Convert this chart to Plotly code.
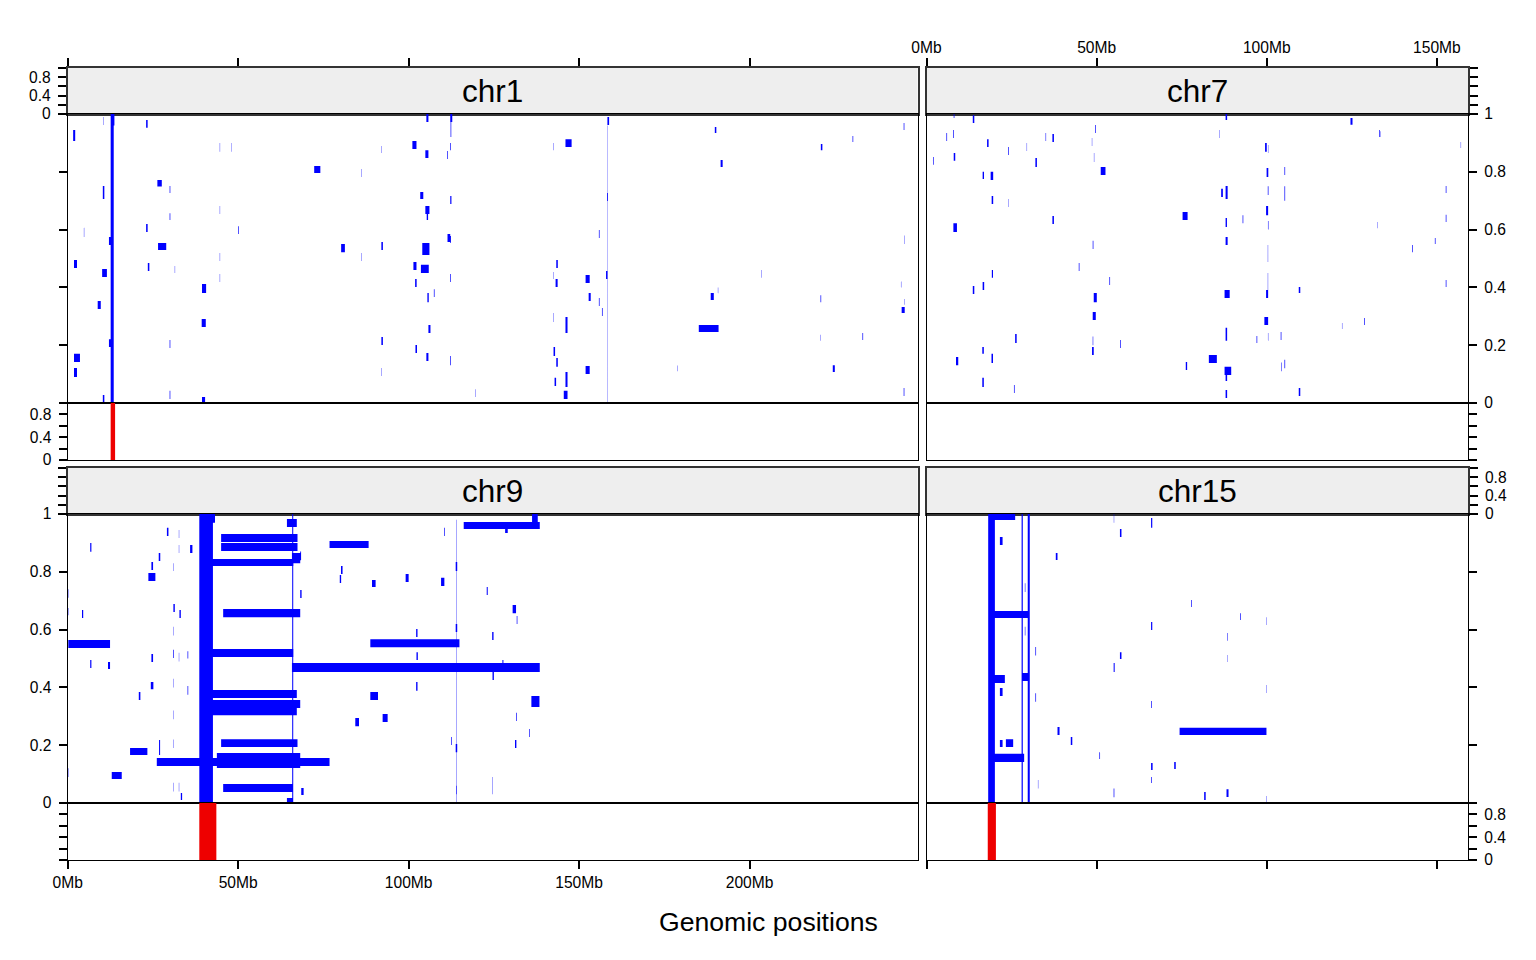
import plotly.graph_objects as go

# ---------------- data (Mb positions, sample fraction 0..1) ----------------
panel_chroms = ["chr1", "chr7", "chr9", "chr15"]
column_lengths_mb = [249.25, 159.14]          # x extent of left / right column
x_ticks_left = [0, 50, 100, 150, 200]
x_ticks_right = [0, 50, 100, 150]
y_ticks = [0, 0.2, 0.4, 0.6, 0.8, 1]
y_labels_main = ["0", "0.2", "0.4", "0.6", "0.8", "1"]
y_labels_small = ["0", "", "0.4", "", "0.8", ""]

# segments: (start_mb, end_mb, y_low, y_high)
chr1_segments = [
    (12.6, 13.5, 0.0, 1.0), (12.6, 13.7, 0.96, 1.0),
    (10.4, 10.5, 0.962, 0.990), (23.0, 23.45, 0.952, 0.979), (1.6, 2.2, 0.907, 0.945),
    (44.6, 44.7, 0.869, 0.900), (48.1, 48.2, 0.869, 0.900), (72.3, 74.1, 0.796, 0.820),
    (26.3, 27.6, 0.749, 0.772), (10.3, 10.75, 0.706, 0.751), (29.9, 30.1, 0.727, 0.751),
    (44.6, 44.7, 0.654, 0.682), (29.9, 30.1, 0.633, 0.657), (4.75, 4.85, 0.574, 0.606),
    (23.0, 23.45, 0.592, 0.619), (50.0, 50.2, 0.585, 0.612), (12.1, 13.0, 0.547, 0.574),
    (26.5, 28.9, 0.529, 0.554), (44.6, 44.7, 0.491, 0.519), (1.85, 2.73, 0.467, 0.495),
    (23.5, 23.95, 0.457, 0.484), (31.4, 31.5, 0.450, 0.474), (10.1, 11.5, 0.436, 0.464),
    (44.6, 44.7, 0.419, 0.446), (39.4, 40.6, 0.381, 0.412), (8.8, 9.7, 0.325, 0.353),
    (39.3, 40.5, 0.263, 0.291), (12.1, 13.0, 0.194, 0.221), (29.9, 30.1, 0.190, 0.218),
    (1.85, 3.6, 0.142, 0.170), (1.85, 2.73, 0.090, 0.121), (29.9, 30.1, 0.014, 0.042),
    (10.3, 10.75, 0.0, 0.028), (39.4, 40.3, 0.0, 0.021),
    (105.2, 105.8, 0.972, 1.0), (112.2, 112.8, 0.972, 1.0), (112.3, 112.5, 0.92, 0.972),
    (158.3, 158.8, 0.962, 0.990), (101.1, 102.3, 0.879, 0.907), (146.0, 147.8, 0.886, 0.913),
    (92.0, 92.1, 0.865, 0.889), (112.2, 112.4, 0.875, 0.900), (142.5, 142.6, 0.875, 0.900),
    (104.9, 105.8, 0.848, 0.875), (111.3, 111.5, 0.844, 0.872), (86.1, 86.2, 0.782, 0.810),
    (103.4, 104.3, 0.706, 0.730), (112.2, 112.55, 0.689, 0.716), (158.2, 158.45, 0.699, 0.727),
    (104.9, 106.1, 0.654, 0.682), (105.3, 105.7, 0.633, 0.654), (111.4, 112.2, 0.557, 0.585),
    (155.8, 156.0, 0.571, 0.599), (80.2, 81.3, 0.522, 0.550), (92.0, 92.45, 0.529, 0.557),
    (104.0, 106.1, 0.512, 0.554), (112.2, 112.4, 0.554, 0.578), (86.1, 86.2, 0.491, 0.519),
    (101.4, 102.3, 0.460, 0.488), (103.6, 105.9, 0.450, 0.478), (143.3, 143.75, 0.467, 0.495),
    (157.9, 158.35, 0.429, 0.457), (112.2, 112.4, 0.419, 0.446), (142.5, 142.6, 0.429, 0.453),
    (151.9, 153.1, 0.415, 0.443), (101.9, 102.35, 0.401, 0.429), (143.1, 143.7, 0.401, 0.429),
    (107.4, 107.6, 0.367, 0.394), (105.5, 105.9, 0.349, 0.381), (152.8, 153.4, 0.353, 0.381),
    (155.8, 156.0, 0.336, 0.363), (156.7, 156.9, 0.301, 0.329), (142.5, 142.6, 0.280, 0.311),
    (146.0, 146.6, 0.242, 0.298), (105.8, 106.4, 0.242, 0.270), (92.0, 92.45, 0.201, 0.228),
    (102.0, 102.45, 0.173, 0.201), (142.5, 142.95, 0.163, 0.194), (105.2, 105.8, 0.145, 0.173),
    (112.2, 112.4, 0.131, 0.163), (143.3, 143.75, 0.125, 0.156), (151.9, 153.1, 0.100, 0.128),
    (92.0, 92.1, 0.093, 0.121), (142.8, 143.25, 0.059, 0.087), (146.0, 146.6, 0.055, 0.107),
    (119.6, 119.7, 0.021, 0.048), (145.5, 146.6, 0.014, 0.042), (158.28, 158.36, 0.0, 0.96),
    (189.8, 190.25, 0.934, 0.955), (191.5, 192.1, 0.817, 0.841), (220.9, 221.35, 0.875, 0.896),
    (230.2, 230.4, 0.903, 0.924), (245.2, 245.4, 0.945, 0.969), (203.5, 203.6, 0.433, 0.460),
    (188.6, 189.5, 0.356, 0.381), (190.7, 190.8, 0.38, 0.40), (220.8, 221.0, 0.349, 0.373),
    (245.4, 245.5, 0.34, 0.36), (244.6, 245.5, 0.311, 0.332), (185.1, 190.9, 0.246, 0.270),
    (220.8, 220.9, 0.215, 0.236), (233.1, 233.3, 0.218, 0.242), (224.4, 225.0, 0.107, 0.131),
    (178.9, 179.0, 0.11, 0.13), (245.2, 245.4, 0.024, 0.052), (245.3, 245.4, 0.55, 0.58),
    (244.4, 244.5, 0.40, 0.42),
]

chr7_segments = [
    (8.0, 8.2, 0.986, 1.0), (13.6, 14.05, 0.969, 0.996), (87.9, 88.35, 0.979, 1.0),
    (49.55, 49.75, 0.934, 0.962), (5.85, 6.05, 0.907, 0.934), (7.8, 8.0, 0.917, 0.945),
    (35.0, 35.15, 0.907, 0.934), (37.0, 37.45, 0.903, 0.931), (17.8, 18.25, 0.886, 0.913),
    (29.45, 29.55, 0.872, 0.900), (24.0, 24.2, 0.858, 0.886), (48.6, 48.7, 0.889, 0.917),
    (86.1, 86.2, 0.917, 0.945), (99.5, 100.0, 0.869, 0.900), (100.35, 100.45, 0.865, 0.893),
    (1.9, 2.1, 0.824, 0.851), (8.0, 8.45, 0.838, 0.865), (32.0, 32.45, 0.817, 0.848),
    (49.2, 49.3, 0.834, 0.865), (51.2, 52.6, 0.789, 0.817), (16.5, 16.9, 0.775, 0.800),
    (18.85, 19.6, 0.772, 0.800), (99.95, 100.45, 0.782, 0.813), (105.2, 105.4, 0.789, 0.817),
    (19.15, 19.6, 0.689, 0.716), (24.0, 24.1, 0.678, 0.706), (86.6, 87.1, 0.713, 0.741),
    (87.9, 88.5, 0.706, 0.751), (100.3, 100.5, 0.72, 0.75), (105.2, 105.4, 0.70, 0.75),
    (75.26, 76.73, 0.633, 0.661), (7.9, 8.95, 0.592, 0.622), (37.0, 37.45, 0.619, 0.647),
    (87.9, 88.3, 0.609, 0.640), (92.9, 93.1, 0.622, 0.650), (99.8, 100.4, 0.650, 0.682),
    (100.35, 100.5, 0.60, 0.63), (48.85, 49.05, 0.533, 0.561), (87.9, 88.5, 0.547, 0.574),
    (100.3, 100.4, 0.488, 0.547), (44.75, 44.95, 0.457, 0.484), (19.2, 19.55, 0.433, 0.460),
    (53.75, 53.95, 0.408, 0.436), (13.6, 14.05, 0.377, 0.405), (16.5, 16.95, 0.391, 0.419),
    (100.3, 100.4, 0.38, 0.45), (49.15, 50.05, 0.349, 0.381), (87.6, 89.1, 0.363, 0.391),
    (99.8, 100.4, 0.363, 0.391), (48.85, 49.75, 0.287, 0.315), (99.3, 100.4, 0.270, 0.298),
    (26.05, 26.5, 0.208, 0.239), (48.85, 49.0, 0.20, 0.23), (56.9, 57.1, 0.190, 0.218),
    (87.9, 88.35, 0.215, 0.260), (97.0, 97.2, 0.208, 0.232), (100.35, 100.45, 0.215, 0.242),
    (104.1, 104.3, 0.218, 0.246), (16.4, 16.85, 0.170, 0.194), (8.66, 9.33, 0.131, 0.159),
    (19.1, 19.55, 0.138, 0.170), (48.65, 49.15, 0.166, 0.194), (82.98, 85.33, 0.138, 0.166),
    (76.2, 76.6, 0.114, 0.142), (87.6, 89.55, 0.097, 0.125), (87.9, 88.35, 0.076, 0.097),
    (104.2, 104.35, 0.11, 0.14), (105.2, 105.4, 0.12, 0.15), (16.4, 16.85, 0.055, 0.087),
    (25.7, 25.9, 0.035, 0.062), (87.9, 88.35, 0.017, 0.045),
    (124.6, 125.2, 0.963, 0.986), (133.0, 133.2, 0.920, 0.945), (152.6, 152.8, 0.727, 0.751),
    (152.6, 152.8, 0.626, 0.651), (132.4, 132.5, 0.605, 0.626), (149.4, 149.6, 0.550, 0.571),
    (142.7, 142.9, 0.522, 0.547), (109.4, 109.85, 0.381, 0.401), (152.6, 152.8, 0.401, 0.426),
    (128.6, 128.8, 0.270, 0.294), (122.1, 122.2, 0.256, 0.277), (109.4, 109.85, 0.024, 0.052),
    (157.0, 157.1, 0.882, 0.903), (133.3, 133.4, 0.920, 0.940),
]

chr9_segments = [
    (38.6, 42.6, 0.0, 1.0), (38.6, 43.2, 0.97, 1.0), (65.85, 66.15, 0.0, 1.0),
    (45.0, 67.4, 0.903, 0.931), (45.0, 67.4, 0.872, 0.900), (42.3, 66.2, 0.820, 0.844),
    (65.77, 68.2, 0.830, 0.865), (45.6, 68.2, 0.643, 0.671), (0.18, 12.42, 0.536, 0.564),
    (42.3, 66.2, 0.505, 0.533), (65.77, 138.46, 0.453, 0.484), (42.3, 67.2, 0.363, 0.391),
    (42.3, 68.2, 0.329, 0.356), (42.3, 67.2, 0.304, 0.329), (45.0, 67.4, 0.194, 0.221),
    (26.13, 76.8, 0.128, 0.156), (43.75, 68.2, 0.121, 0.173), (45.6, 65.9, 0.038, 0.066),
    (12.92, 15.85, 0.083, 0.107), (18.29, 23.37, 0.166, 0.190), (23.66, 25.72, 0.768, 0.796),
    (64.3, 67.2, 0.955, 0.983), (136.2, 137.87, 0.972, 1.0), (116.15, 138.46, 0.948, 0.972),
    (128.3, 129.07, 0.934, 0.952), (76.8, 88.26, 0.882, 0.907), (88.76, 114.9, 0.539, 0.567),
    (29.1, 29.55, 0.924, 0.952), (32.6, 32.7, 0.917, 0.945), (6.6, 6.95, 0.869, 0.900),
    (35.9, 36.58, 0.865, 0.893), (32.6, 32.7, 0.865, 0.893), (26.7, 27.15, 0.837, 0.865),
    (31.0, 31.1, 0.803, 0.830), (24.55, 25.04, 0.806, 0.834), (0.1, 0.2, 0.71, 0.74),
    (31.0, 31.42, 0.661, 0.689), (32.77, 33.18, 0.640, 0.668), (4.2, 4.55, 0.640, 0.668),
    (0.1, 0.2, 0.65, 0.675), (68.2, 68.6, 0.709, 0.737), (31.0, 31.1, 0.58, 0.61),
    (30.95, 31.15, 0.502, 0.530), (35.15, 35.35, 0.50, 0.525), (24.55, 25.04, 0.488, 0.516),
    (6.6, 6.95, 0.467, 0.495), (11.83, 12.42, 0.464, 0.488), (32.6, 32.7, 0.49, 0.52),
    (24.37, 25.13, 0.394, 0.419), (35.15, 35.35, 0.375, 0.405), (31.0, 31.1, 0.40, 0.43),
    (20.85, 21.32, 0.356, 0.384), (31.0, 31.1, 0.29, 0.32), (26.8, 27.1, 0.166, 0.218),
    (0.1, 0.2, 0.09, 0.12), (31.0, 31.1, 0.19, 0.22), (31.0, 31.1, 0.04, 0.07),
    (32.6, 32.7, 0.04, 0.07), (33.18, 33.56, 0.010, 0.035), (68.5, 69.2, 0.028, 0.052),
    (64.3, 66.06, 0.0, 0.017),
    (110.4, 110.6, 0.924, 0.952), (113.95, 114.05, 0.0, 0.98), (68.2, 68.45, 0.84, 0.87),
    (80.15, 80.62, 0.792, 0.820), (79.8, 80.2, 0.761, 0.789), (89.26, 90.31, 0.747, 0.772),
    (99.12, 100.0, 0.765, 0.792), (109.51, 110.48, 0.751, 0.779), (113.8, 114.25, 0.803, 0.834),
    (122.9, 123.2, 0.720, 0.747), (130.5, 131.5, 0.657, 0.685), (131.7, 131.9, 0.619, 0.647),
    (102.2, 102.6, 0.574, 0.602), (113.8, 114.25, 0.592, 0.619), (124.5, 124.9, 0.564, 0.592),
    (102.3, 102.7, 0.495, 0.522), (127.5, 127.8, 0.484, 0.495), (124.6, 125.0, 0.426, 0.453),
    (102.2, 102.6, 0.388, 0.419), (88.76, 91.02, 0.356, 0.384), (136.0, 138.37, 0.332, 0.370),
    (131.5, 131.7, 0.284, 0.312), (84.35, 85.44, 0.266, 0.294), (92.37, 93.84, 0.280, 0.308),
    (135.4, 135.6, 0.228, 0.256), (112.5, 112.7, 0.201, 0.228), (113.8, 114.25, 0.176, 0.204),
    (131.2, 131.6, 0.190, 0.218), (124.6, 124.7, 0.06, 0.09), (124.6, 124.7, 0.03, 0.06),
    (113.9, 114.1, 0.03, 0.06),
]

chr15_segments = [
    (18.13, 20.1, 0.0, 1.0), (18.13, 26.06, 0.979, 1.0), (27.95, 28.3, 0.0, 1.0),
    (29.75, 30.35, 0.0, 1.0), (20.1, 30.16, 0.640, 0.664), (20.1, 23.03, 0.415, 0.443),
    (28.02, 30.16, 0.422, 0.450), (20.1, 28.7, 0.142, 0.170), (21.57, 22.36, 0.893, 0.920),
    (38.0, 38.5, 0.841, 0.865), (28.9, 29.05, 0.73, 0.76), (28.9, 29.05, 0.58, 0.61),
    (32.0, 32.2, 0.51, 0.54), (56.85, 57.3, 0.920, 0.948), (55.05, 55.15, 0.97, 1.0),
    (56.85, 57.3, 0.498, 0.522), (55.0, 55.3, 0.453, 0.484), (21.57, 22.36, 0.370, 0.398),
    (32.0, 32.2, 0.35, 0.38), (38.5, 39.1, 0.235, 0.263), (42.4, 42.85, 0.201, 0.228),
    (21.57, 22.36, 0.194, 0.218), (23.33, 25.47, 0.194, 0.221), (50.8, 51.0, 0.152, 0.176),
    (32.75, 32.85, 0.05, 0.08), (55.0, 55.2, 0.02, 0.05),
    (66.0, 66.35, 0.952, 0.986), (66.0, 66.35, 0.599, 0.626), (66.05, 66.25, 0.329, 0.353),
    (66.0, 66.45, 0.114, 0.138), (66.05, 66.25, 0.069, 0.090), (72.8, 73.25, 0.118, 0.142),
    (77.8, 78.0, 0.678, 0.702), (88.4, 88.55, 0.561, 0.588), (88.4, 88.5, 0.488, 0.512),
    (92.2, 92.4, 0.633, 0.657), (99.85, 99.95, 0.616, 0.643), (99.85, 99.95, 0.381, 0.408),
    (74.38, 99.91, 0.235, 0.260), (81.6, 82.05, 0.010, 0.038), (88.17, 88.76, 0.021, 0.048),
    (99.85, 99.95, 0.003, 0.024),
]

# red regions in the lower track: (start_mb, end_mb, height)
red_regions = {
    "chr1": [(12.6, 13.9, 1.0)],
    "chr7": [],
    "chr9": [(38.6, 43.6, 1.0)],
    "chr15": [(18.0, 20.4, 1.0)],
}

segments = {"chr1": chr1_segments, "chr7": chr7_segments,
            "chr9": chr9_segments, "chr15": chr15_segments}

# ---------------- layout geometry (page pixels) ----------------
PAGE_W, PAGE_H = 1536, 960
OFF = 8                                   # default body margin of the html page
W, H = PAGE_W - 2 * OFF, PAGE_H - 2 * OFF
COL_X = [(67.7, 917.5), (926.5, 1468.0)]
ROW_Y = [(68, 114, 403, 460), (468, 514, 803, 860)]
panel_pos = {"chr1": (0, 0), "chr7": (1, 0), "chr9": (0, 1), "chr15": (1, 1)}

FONT = "Liberation Sans, Arial, sans-serif"
tickfont = dict(family=FONT, size=15.6, color="black")


def xdom(c):
    a, b = COL_X[c]
    return [(a - OFF) / W, (b - OFF) / W]


def ydom(top, bottom):
    return [1 - (bottom - OFF) / H, 1 - (top - OFF) / H]


def rect_path(rects):
    xs, ys = [], []
    for a, b, y0, y1 in rects:
        xs += [a, b, b, a, a, None]
        ys += [y0, y0, y1, y1, y0, None]
    return xs, ys


def ax_id(i):
    return "" if i == 1 else str(i)


fig = go.Figure()
layout = dict(width=W, height=H, margin=dict(l=0, r=0, t=0, b=0, pad=0, autoexpand=False),
              paper_bgcolor="white", plot_bgcolor="white", showlegend=False)
shapes, annotations = [], []

for p, chrom in enumerate(panel_chroms):
    c, r = panel_pos[chrom]
    st, mt, mb, bb = ROW_Y[r]
    side = "left" if c == 0 else "right"
    xticks = x_ticks_left if c == 0 else x_ticks_right
    xlab = [f"{v}Mb" for v in xticks]
    xr = [0, column_lengths_mb[c]]

    # which axis pieces carry labels (lattice alternating pattern)
    strip_lab = chrom in ("chr1", "chr15")
    main_lab = chrom in ("chr7", "chr9")
    bot_lab = chrom in ("chr1", "chr15")

    subs = [("strip", st, mt), ("main", mt, mb), ("bottom", mb, bb)]
    for s, (kind, t, b) in enumerate(subs):
        idx = p * 3 + s + 1
        sid = ax_id(idx)
        xa, ya = f"xaxis{sid}", f"yaxis{sid}"
        xref, yref = f"x{sid}", f"y{sid}"
        lw = 1.6 if kind == "strip" else 1.2
        lc = "#333333" if kind == "strip" else "black"
        xaxis = dict(domain=xdom(c), range=xr, anchor=yref, showgrid=False,
                     zeroline=False, showline=True, mirror=True, linecolor=lc,
                     linewidth=lw, fixedrange=True, ticks="", showticklabels=False,
                     automargin=False)
        if kind == "strip" and r == 0:
            xaxis.update(side="top", ticks="outside", ticklen=8, tickwidth=1.5,
                         tickcolor="black", tickvals=xticks, ticktext=xlab,
                         showticklabels=(chrom == "chr7"), tickfont=tickfont,
                         ticklabelstandoff=-1)
        if kind == "bottom" and r == 1:
            xaxis.update(side="bottom", ticks="outside", ticklen=8, tickwidth=1.5,
                         tickcolor="black", tickvals=xticks, ticktext=xlab,
                         showticklabels=(chrom == "chr9"), tickfont=tickfont,
                         ticklabelstandoff=0)
        if kind == "main":
            labels, show = y_labels_main, main_lab
        elif kind == "strip":
            labels, show = y_labels_small, strip_lab
        else:
            labels, show = y_labels_small, bot_lab
        yaxis = dict(domain=ydom(t, b), range=[0, 1], anchor=xref, side=side,
                     showgrid=False, zeroline=False, showline=True, mirror=True,
                     linecolor=lc, linewidth=lw, fixedrange=True, ticks="outside",
                     ticklen=8, tickwidth=1.5, tickcolor="black", tickvals=y_ticks,
                     ticktext=labels, showticklabels=show, tickfont=tickfont,
                     ticklabelstandoff=4, automargin=False)
        layout[xa] = xaxis
        layout[ya] = yaxis

        if kind == "strip":
            shapes.append(dict(type="rect", xref=f"{xref} domain", yref=f"{yref} domain",
                               x0=0, x1=1, y0=0, y1=1, fillcolor="#EEEEEE",
                               line=dict(width=0), layer="below"))
            annotations.append(dict(text=chrom, xref=f"{xref} domain", yref=f"{yref} domain",
                                    x=0.5, y=0.5, showarrow=False, xanchor="center",
                                    yanchor="middle",
                                    font=dict(family=FONT, size=31.5, color="black")))
            fig.add_trace(go.Scatter(x=[None], y=[None], xaxis=xref, yaxis=yref,
                                     mode="markers", hoverinfo="skip"))
        elif kind == "main":
            xs, ys = rect_path(segments[chrom])
            fig.add_trace(go.Scatter(x=xs, y=ys, xaxis=xref, yaxis=yref, mode="lines",
                                     fill="toself", fillcolor="#0000FF",
                                     line=dict(width=0, color="#0000FF"),
                                     hoverinfo="skip"))
        else:
            rects = [(a, b2, 0, h) for a, b2, h in red_regions[chrom]]
            xs, ys = rect_path(rects)
            if not xs:
                xs, ys = [None], [None]
            fig.add_trace(go.Scatter(x=xs, y=ys, xaxis=xref, yaxis=yref, mode="lines",
                                     fill="toself", fillcolor="#EE0000",
                                     line=dict(width=0, color="#EE0000"),
                                     hoverinfo="skip"))

annotations.append(dict(text="Genomic positions", xref="paper", yref="paper",
                        x=(768 - OFF) / W, y=1 - (922 - OFF) / H, showarrow=False,
                        xanchor="center", yanchor="middle",
                        font=dict(family=FONT, size=26.6, color="black")))

layout["shapes"] = shapes
layout["annotations"] = annotations
fig.update_layout(**layout)
fig.write_html("out.html")
